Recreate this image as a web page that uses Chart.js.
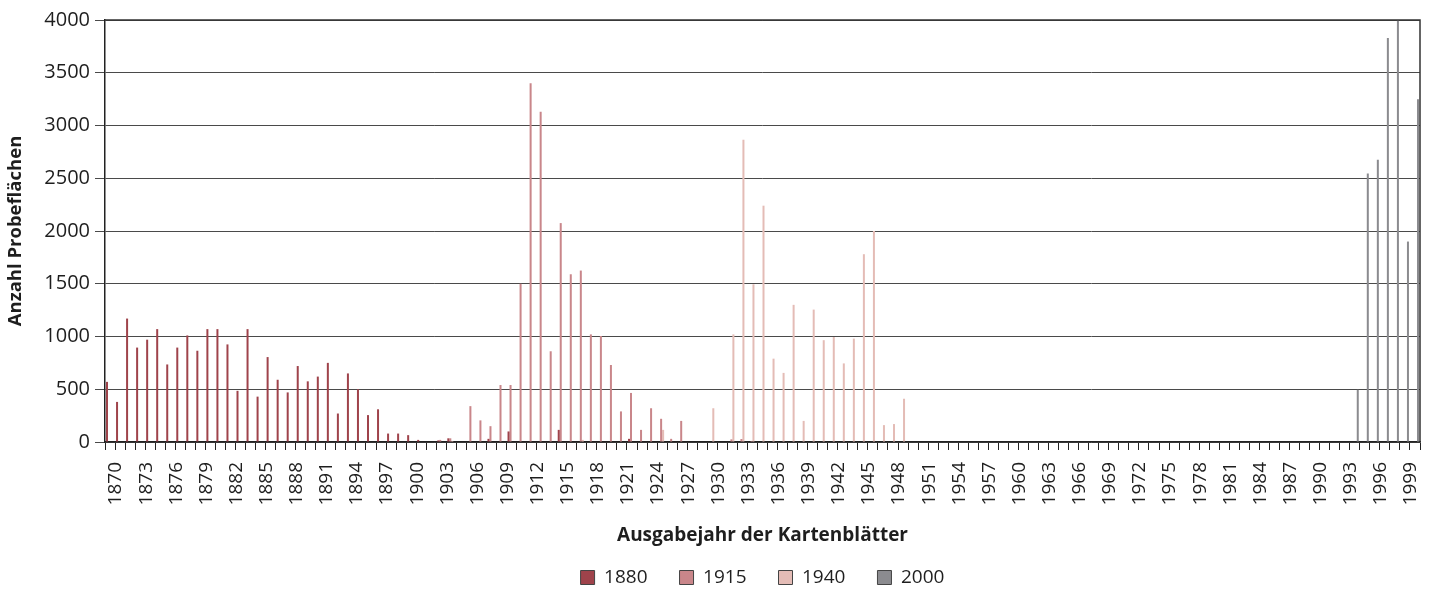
<!DOCTYPE html>
<html lang="de">
<head>
<meta charset="utf-8">
<title>Anzahl Probeflächen nach Ausgabejahr der Kartenblätter</title>
<script src="https://cdn.jsdelivr.net/npm/chart.js@4.4.1/dist/chart.umd.min.js"></script>
<style>
  html, body { margin: 0; padding: 0; background: #fff; }
  #wrap { width: 1430px; height: 591px; }
</style>
</head>
<body>
<div id="wrap"><canvas id="probeChart" width="1430" height="591"></canvas></div>
<script>
// Kategorien: Ausgabejahre 1870 bis 2000
const years = [];
for (let y = 1870; y <= 2000; y++) years.push(String(y));

// nur jedes dritte Jahr wird beschriftet
const tickLabels = years.map((y, i) => (i % 3 === 0 ? y : ''));

const seriesNames = ['1880', '1915', '1940', '2000'];

// Werte je Jahrzehnt (1870-1879, 1880-1889, ...), letzter Wert = 2000
const values1880 = [
  570, 380, 1170, 895, 970, 1070, 735, 895, 1010, 865,
  1070, 1070, 925, 485, 1070, 430, 805, 590, 470, 720,
  575, 620, 750, 270, 650, 500, 255, 310, 80, 80,
  65, 20, 0, 15, 35, 0, 0, 0, 30, 0,
  100, 0, 0, 0, 0, 115, 0, 0, 0, 0,
  0, 0, 30, 0, 0, 0, 0, 0, 0, 0,
  0, 0, 0, 0, 0, 0, 0, 0, 0, 0,
  0, 0, 0, 0, 0, 0, 0, 0, 0, 0,
  0, 0, 0, 0, 0, 0, 0, 0, 0, 0,
  0, 0, 0, 0, 0, 0, 0, 0, 0, 0,
  0, 0, 0, 0, 0, 0, 0, 0, 0, 0,
  0, 0, 0, 0, 0, 0, 0, 0, 0, 0,
  0, 0, 0, 0, 0, 0, 0, 0, 0, 0,
  0
];

const values1915 = [
  0, 0, 0, 0, 0, 0, 0, 0, 0, 0,
  0, 0, 0, 0, 0, 0, 0, 0, 0, 0,
  0, 0, 0, 0, 0, 0, 0, 0, 0, 0,
  0, 0, 0, 20, 35, 0, 340, 205, 150, 540,
  540, 1500, 3400, 3130, 860, 2075, 1590, 1625, 1020, 1005,
  730, 290, 465, 115, 320, 220, 30, 200, 0, 0,
  0, 0, 25, 28, 10, 0, 0, 0, 0, 0,
  0, 0, 0, 0, 0, 0, 0, 0, 0, 0,
  0, 0, 0, 0, 0, 0, 0, 0, 0, 0,
  0, 0, 0, 0, 0, 0, 0, 0, 0, 0,
  0, 0, 0, 0, 0, 0, 0, 0, 0, 0,
  0, 0, 0, 0, 0, 0, 0, 0, 0, 0,
  0, 0, 0, 0, 0, 0, 0, 0, 0, 0,
  0
];

const values1940 = [
  0, 0, 0, 0, 0, 0, 0, 0, 0, 0,
  0, 0, 0, 0, 0, 0, 0, 0, 0, 0,
  0, 0, 0, 0, 0, 0, 0, 0, 0, 0,
  0, 0, 0, 0, 10, 0, 0, 0, 0, 0,
  0, 0, 0, 0, 0, 0, 0, 20, 0, 0,
  0, 0, 0, 0, 0, 115, 0, 0, 0, 0,
  320, 0, 1020, 2865, 1495, 2240, 790, 655, 1300, 200,
  1255, 965, 995, 745, 980, 1780, 2000, 160, 170, 410,
  0, 0, 0, 0, 0, 0, 0, 0, 0, 0,
  0, 0, 0, 0, 0, 0, 0, 0, 0, 0,
  0, 0, 0, 0, 0, 0, 0, 0, 0, 0,
  0, 0, 0, 0, 0, 0, 0, 0, 0, 0,
  0, 0, 0, 0, 0, 0, 0, 0, 0, 0,
  0
];

const values2000 = [
  0, 0, 0, 0, 0, 0, 0, 0, 0, 0,
  0, 0, 0, 0, 0, 0, 0, 0, 0, 0,
  0, 0, 0, 0, 0, 0, 0, 0, 0, 0,
  0, 0, 0, 0, 0, 0, 0, 0, 0, 0,
  0, 0, 0, 0, 0, 0, 0, 0, 0, 0,
  0, 0, 0, 0, 0, 0, 0, 0, 0, 0,
  0, 0, 0, 0, 0, 0, 0, 0, 0, 0,
  0, 0, 0, 0, 0, 0, 0, 0, 0, 0,
  0, 0, 0, 0, 0, 0, 0, 0, 0, 0,
  0, 0, 0, 0, 0, 0, 0, 0, 0, 0,
  0, 0, 0, 0, 0, 0, 0, 0, 0, 0,
  0, 0, 0, 0, 0, 0, 0, 0, 0, 0,
  0, 0, 0, 0, 495, 2545, 2675, 3830, 4000, 1900,
  3250
];

const yTicks = [0, 500, 1000, 1500, 2000, 2500, 3000, 3500, 4000];

const seriesColors = ['#9f434b', '#c9868a', '#e4bcb6', '#8b8b8f'];
const FONT = "'Open Sans', sans-serif";
const TEXT = '#1e1e1e';

// Rahmen oben und rechts um die Zeichenfläche
const plotFrame = {
  id: 'plotFrame',
  afterDatasetsDraw(chart) {
    const { ctx, chartArea: a } = chart;
    ctx.save();
    ctx.strokeStyle = '#333';
    ctx.lineWidth = 1.5;
    ctx.beginPath();
    ctx.moveTo(a.left, a.top);
    ctx.lineTo(a.right, a.top);
    ctx.lineTo(a.right, a.bottom);
    ctx.stroke();
    ctx.restore();
  }
};

const allValues = [values1880, values1915, values1940, values2000];

new Chart(document.getElementById('probeChart'), {
  type: 'bar',
  data: {
    labels: years,
    datasets: seriesNames.map((name, i) => ({
      label: name,
      data: allValues[i],
      backgroundColor: seriesColors[i],
      borderWidth: 0,
      barPercentage: 1,
      categoryPercentage: 0.8
    }))
  },
  options: {
    responsive: false,
    animation: false,
    layout: { padding: { top: 20, right: 10, bottom: -6, left: 0 } },
    scales: {
      x: {
        grid: { drawOnChartArea: false, color: '#222', tickLength: 8, offset: true },
        border: { color: '#222', width: 1.5 },
        ticks: {
          autoSkip: false,
          minRotation: 90,
          maxRotation: 90,
          padding: 12,
          labelOffset: 6,
          color: TEXT,
          font: { family: FONT, size: 19 },
          callback: (v, i) => tickLabels[i]
        },
        title: {
          display: true,
          text: 'Ausgabejahr der Kartenblätter',
          color: TEXT,
          font: { family: FONT, size: 19, weight: 'bold' },
          padding: { top: 0, bottom: -11 }
        },
        afterFit(scale) {
          scale.height = 94;
          scale.paddingLeft = 0;
          scale.paddingRight = 0;
        }
      },
      y: {
        min: 0,
        max: 4000,
        afterBuildTicks(scale) { scale.ticks = yTicks.map(v => ({ value: v })); },
        ticks: {
          color: TEXT,
          font: { family: FONT, size: 20 },
          padding: 5,
          callback: v => String(v)
        },
        grid: { color: '#4a4a4a', lineWidth: 1, tickLength: 10 },
        border: { color: '#222', width: 1.5 },
        title: {
          display: true,
          text: 'Anzahl Probeflächen',
          color: TEXT,
          font: { family: FONT, size: 18.5, weight: 'bold' },
          padding: { top: 5, bottom: 0 }
        },
        afterFit(scale) { scale.width = 105; }
      }
    },
    plugins: {
      legend: {
        position: 'bottom',
        fullSize: false,
        labels: {
          boxWidth: 14,
          boxHeight: 14,
          padding: 32,
          color: TEXT,
          font: { family: FONT, size: 19 },
          generateLabels(chart) {
            const items = Chart.defaults.plugins.legend.labels.generateLabels(chart);
            items.forEach(it => { it.strokeStyle = '#444'; it.lineWidth = 1; });
            return items;
          }
        }
      },
      tooltip: { enabled: false }
    }
  },
  plugins: [plotFrame]
});
</script>
</body>
</html>
